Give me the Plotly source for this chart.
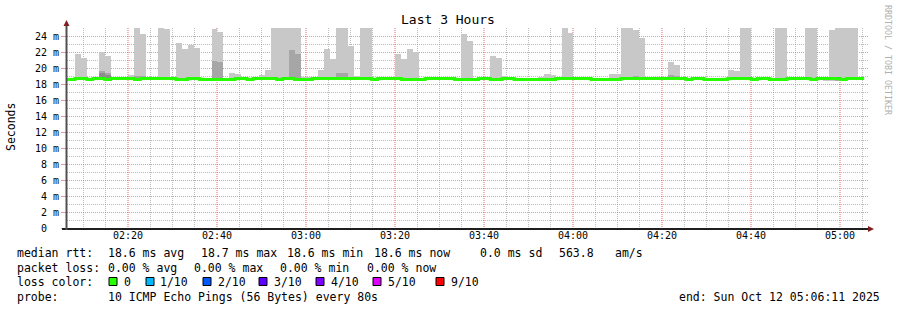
import numpy as np
import pandas as pd
import plotly.graph_objects as go

# ---------------- data (ms), one value per 80 s step ----------------
first_step = "2025-10-12 02:05:26"
step_seconds = 80
range_start = "2025-10-12 02:06:17.530"
range_end = "2025-10-12 05:06:17.530"

median_rtt = [
    18.55, 18.55, 18.68, 18.68, 18.55, 18.68, 18.68, 18.55, 18.68, 18.68,
    18.68, 18.68, 18.55, 18.68, 18.68, 18.68, 18.68, 18.68, 18.68, 18.55,
    18.55, 18.68, 18.68, 18.55, 18.55, 18.55, 18.55, 18.55, 18.55, 18.68,
    18.68, 18.55, 18.68, 18.68, 18.68, 18.68, 18.55, 18.68, 18.68, 18.55,
    18.55, 18.55, 18.68, 18.68, 18.68, 18.68, 18.68, 18.68, 18.68, 18.68,
    18.68, 18.68, 18.55, 18.68, 18.68, 18.68, 18.68, 18.55, 18.55, 18.55,
    18.55, 18.68, 18.68, 18.68, 18.68, 18.68, 18.55, 18.55, 18.55, 18.55,
    18.68, 18.68, 18.55, 18.55, 18.68, 18.68, 18.55, 18.55, 18.55, 18.55,
    18.55, 18.55, 18.55, 18.68, 18.68, 18.68, 18.68, 18.68, 18.68, 18.55,
    18.55, 18.55, 18.55, 18.55, 18.68, 18.68, 18.68, 18.68, 18.68, 18.68,
    18.68, 18.68, 18.68, 18.68, 18.68, 18.55, 18.68, 18.68, 18.55, 18.55,
    18.55, 18.55, 18.68, 18.68, 18.68, 18.68, 18.55, 18.68, 18.68, 18.55,
    18.55, 18.55, 18.68, 18.68, 18.68, 18.68, 18.55, 18.68, 18.68, 18.68,
    18.68, 18.55, 18.68, 18.68, 18.68,
]

N = None
smoke_max = [
    N, N, 21.75, 21.25, N, N, 22.0, 21.5, N, N,
    N, 19.1, 25.5, 24.25, N, N, 25.5, 24.9, N, 23.1,
    22.4, 22.9, 22.5, N, N, 24.9, 24.5, N, 19.4, 19.25,
    N, N, N, 19.1, 19.7, 25.5, 25.5, 25.5, 25.5, 25.5,
    18.9, 18.9, N, 19.7, 22.4, 21.1, 25.5, 25.5, 22.75, 19.0,
    25.5, 25.5, N, N, N, N, 21.75, 21.1, 22.4, 22.0,
    N, N, N, N, N, N, N, 24.25, 23.4, N,
    N, N, 21.5, 21.25, 19.0, N, N, N, N, N,
    18.9, 19.25, 19.1, N, 25.5, 24.4, 18.9, N, N, N,
    N, N, 19.25, 19.25, 25.5, 25.5, 24.75, 23.75, N, N,
    N, N, 20.75, 20.4, N, N, N, N, N, N,
    N, N, 19.75, 19.6, 25.5, 25.5, N, N, N, N,
    25.5, 25.5, N, N, N, 25.5, 25.5, N, 18.9, 24.75,
    25.5, 25.5, 25.5, 25.5, N,
]

smoke_mid = [
    N, N, N, N, N, N, 19.6, 19.4, N, N,
    N, N, 18.95, 18.95, N, N, N, N, N, N,
    N, N, N, N, N, 20.9, 20.75, N, N, N,
    N, N, N, N, N, N, N, N, 22.25, 21.75,
    N, N, N, N, N, N, 19.4, 19.4, N, N,
    N, N, N, N, N, N, N, N, N, N,
    N, N, N, N, N, N, N, N, N, N,
    N, N, N, N, N, N, N, N, N, N,
    N, N, N, N, N, N, N, N, N, N,
    N, N, N, N, N, N, 19.0, N, N, N,
    N, N, 19.1, 19.0, N, N, N, N, N, N,
    N, N, N, N, N, N, N, N, N, N,
    N, N, N, N, N, N, N, N, N, N,
    18.85, N, N, N, N,
]

smoke_low_part = [
    N, N, N, N, N, N, 19.35, 19.1, N, N,
] + [N] * 125

smoke_min = [18.55] * 128 + [18.35, 18.35, 18.35] + [18.55] * 4

y_tick_values = [0, 2, 4, 6, 8, 10, 12, 14, 16, 18, 20, 22, 24]
y_tick_labels = ["0\u00a0\u00a0", "2 m", "4 m", "6 m", "8 m", "10 m", "12 m",
                 "14 m", "16 m", "18 m", "20 m", "22 m", "24 m"]

legend_rows = [
    [("median rtt:", 16), ("18.6 ms avg", 107), ("18.7 ms max", 200), ("18.6 ms min", 286),
     ("18.6 ms now", 373), ("0.0 ms sd", 479), ("563.8", 558), ("am/s", 614)],
    [("packet loss:", 16), ("0.00 % avg", 107), ("0.00 % max", 193), ("0.00 % min", 279),
     ("0.00 % now", 366)],
    [("loss color:", 16)],
    [("probe:", 16), ("10 ICMP Echo Pings (56 Bytes) every 80s", 107)],
]
legend_row_y = [253, 268, 282, 297]
loss_labels = ["0", "1/10", "2/10", "3/10", "4/10", "5/10", "9/10"]
loss_colors = ["#26ff00", "#00b8ff", "#0059ff", "#5e00ff", "#7e00ff", "#dd00ff", "#ff0000"]
loss_box_x = [109, 146, 203, 259, 316, 373, 436]
loss_text_x = [123, 159, 217, 273, 330, 387, 450]

# ---------------- geometry helpers ----------------
WIDTH, HEIGHT = 897, 310
L, T, PW, PH = 67, 28, 801, 200


def px(x):
    return (x - L) / PW


def py(y):
    return (T + PH - y) / PH


FONT = "DejaVu Sans Mono"

n = len(median_rtt)
edges = pd.date_range(first_step, periods=n + 1, freq=f"{step_seconds}s")
centers = edges[:-1] + pd.Timedelta(seconds=step_seconds / 2)
bar_w = step_seconds * 1000

# grid positions: major every 20 min, minor every 5 min (not on majors)
five_min = pd.date_range("2025-10-12 02:10:00", "2025-10-12 05:05:00", freq="5min")
x_minor_vals = [t.strftime("%Y-%m-%d %H:%M:%S") for t in five_min if t.minute % 20 != 0]
y_minor_vals = [v for v in range(1, 26) if v % 2 == 1]


def arr(v):
    return np.array([np.nan if a is None else a for a in v], dtype=float)


base = np.array(smoke_min, dtype=float)

fig = go.Figure()
for vals, col in [(smoke_max, "#c8c8c8"), (smoke_mid, "#a6a6a6"), (smoke_low_part, "#8c8c8c")]:
    top = arr(vals)
    fig.add_trace(go.Bar(x=centers, y=top - base, base=base, width=bar_w,
                         marker=dict(color=col, line=dict(width=0)),
                         hoverinfo="skip", showlegend=False))

fig.add_trace(go.Scatter(x=edges, y=median_rtt + [median_rtt[-1]], mode="lines",
                         line=dict(color="#26ff00", width=3, shape="hv"),
                         hoverinfo="skip", showlegend=False))

major_grid = "rgba(222,79,79,0.6)"
major_grid_v = "rgba(222,79,79,0.42)"
minor_grid = "rgba(143,143,143,0.6)"

fig.update_layout(
    width=WIDTH, height=HEIGHT,
    margin=dict(l=L, r=WIDTH - L - PW, t=T, b=HEIGHT - T - PH),
    paper_bgcolor="white", plot_bgcolor="white",
    barmode="overlay", bargap=0,
    showlegend=False,
    font=dict(family=FONT, size=10, color="black"),
    xaxis=dict(
        type="date", range=[range_start, range_end],
        tick0="2025-10-12 02:20:00", dtick=20 * 60 * 1000, tickformat="%H:%M",
        showgrid=True, gridcolor=major_grid_v, griddash="1px,1px", gridwidth=2,
        minor=dict(tickmode="array", tickvals=x_minor_vals, showgrid=True,
                   gridcolor=minor_grid, griddash="1px,1px", gridwidth=1),
        ticks="", showline=False, zeroline=False,
        tickfont=dict(family=FONT, size=10, color="black"),
    ),
    yaxis=dict(
        range=[0, 25], tickmode="array", tickvals=y_tick_values, ticktext=y_tick_labels,
        showgrid=True, gridcolor=major_grid, griddash="1px,1px", gridwidth=1,
        minor=dict(tickmode="array", tickvals=y_minor_vals, showgrid=True,
                   gridcolor=minor_grid, griddash="1px,1px", gridwidth=1),
        ticks="outside", ticklen=5, tickcolor=major_grid,
        showline=False, zeroline=False,
        tickfont=dict(family=FONT, size=10, color="black"),
    ),
)

shapes = []
# axes with arrows (rrdtool style)
shapes.append(dict(type="line", xref="paper", yref="paper", x0=px(62), x1=px(869),
                   y0=py(229), y1=py(229), line=dict(color="#1f1f1f", width=2)))
shapes.append(dict(type="line", xref="paper", yref="paper", x0=px(66.5), x1=px(66.5),
                   y0=py(230), y1=py(24), line=dict(color="#505050", width=2)))
shapes.append(dict(type="path", xref="paper", yref="paper",
                   path=f"M {px(66.5)},{py(20)} L {px(63.5)},{py(26)} L {px(69.5)},{py(26)} Z",
                   fillcolor="#801f1f", line=dict(width=0)))
shapes.append(dict(type="path", xref="paper", yref="paper",
                   path=f"M {px(874)},{py(229)} L {px(868)},{py(226)} L {px(868)},{py(232)} Z",
                   fillcolor="#801f1f", line=dict(width=0)))
# loss colour swatches
for bx, c in zip(loss_box_x, loss_colors):
    shapes.append(dict(type="rect", xref="paper", yref="paper",
                       x0=px(bx), x1=px(bx + 8), y0=py(285.5), y1=py(277.5),
                       fillcolor=c, line=dict(color="black", width=1)))
fig.update_layout(shapes=shapes)

ann = []


def text(t, x, y, size=11.5, color="black", xanchor="left", angle=0):
    ann.append(dict(text=t, x=px(x), y=py(y), xref="paper", yref="paper",
                    xanchor=xanchor, yanchor="middle", showarrow=False, textangle=angle,
                    font=dict(family=FONT, size=size, color=color), borderpad=0))


text("Last 3 Hours", 448, 20, size=13, xanchor="center")
text("Seconds", 11, 127, size=11.5, xanchor="center", angle=-90)
text("RRDTOOL / TOBI OETIKER", 888, 60, size=8.3, color="#b0b0b0", xanchor="center", angle=90)
for row, yy in zip(legend_rows, legend_row_y):
    for t, xx in row:
        text(t, xx, yy)
for lab, xx in zip(loss_labels, loss_text_x):
    text(lab, xx, legend_row_y[2])
text("end: Sun Oct 12 05:06:11 2025", 678, legend_row_y[3])
fig.update_layout(annotations=ann)

fig.write_html("out.html")
